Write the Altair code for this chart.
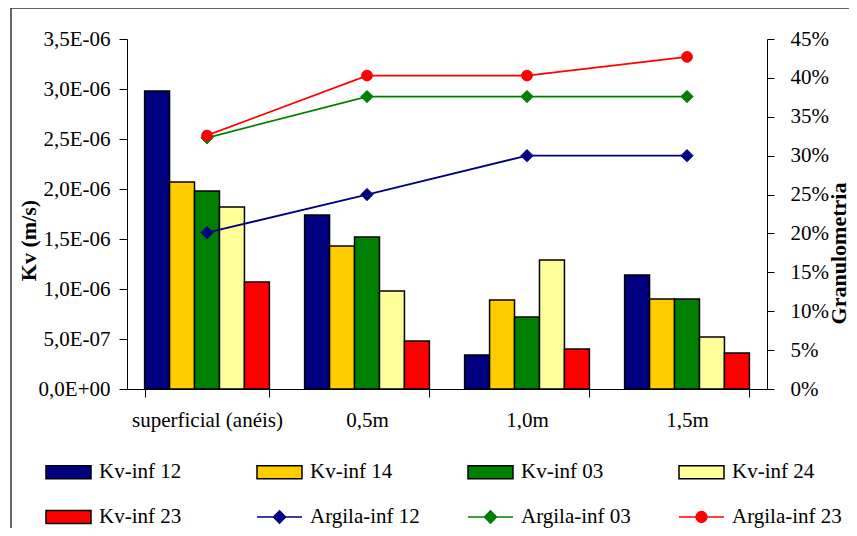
import altair as alt
import pandas as pd

categories = ["superficial (anéis)", "0,5m", "1,0m", "1,5m"]

bar_series = ["Kv-inf 12", "Kv-inf 14", "Kv-inf 03", "Kv-inf 24", "Kv-inf 23"]
kv_inf12 = [2.98e-6, 1.74e-6, 0.34e-6, 1.14e-6]
kv_inf14 = [2.07e-6, 1.43e-6, 0.89e-6, 0.90e-6]
kv_inf03 = [1.98e-6, 1.52e-6, 0.72e-6, 0.90e-6]
kv_inf24 = [1.82e-6, 0.98e-6, 1.29e-6, 0.52e-6]
kv_inf23 = [1.07e-6, 0.48e-6, 0.40e-6, 0.36e-6]

line_series = ["Argila-inf 12", "Argila-inf 03", "Argila-inf 23"]
argila_inf12 = [20.1, 25.0, 30.0, 30.0]
argila_inf03 = [32.3, 37.6, 37.6, 37.6]
argila_inf23 = [32.6, 40.3, 40.3, 42.7]

kv_ticks = [0, 5e-7, 1e-6, 1.5e-6, 2e-6, 2.5e-6, 3e-6, 3.5e-6]
pct_ticks = [0, 5, 10, 15, 20, 25, 30, 35, 40, 45]

bar_colors = ["#000080", "#FFCC00", "#008000", "#FFFF99", "#FF0000"]
line_colors = ["#000080", "#008000", "#FF0000"]

all_series = bar_series + line_series
fill_colors = bar_colors + line_colors
stroke_colors = ["#000000"] * 5 + line_colors

bar_rows = []
for s, vals in zip(bar_series, [kv_inf12, kv_inf14, kv_inf03, kv_inf24, kv_inf23]):
    for c, v in zip(categories, vals):
        bar_rows.append({"cat": c, "series": s, "kv": v})
bars_df = pd.DataFrame(bar_rows)

line_rows = []
for s, vals in zip(line_series, [argila_inf12, argila_inf03, argila_inf23]):
    for c, v in zip(categories, vals):
        line_rows.append({"cat": c, "series": s, "pct": v})
lines_df = pd.DataFrame(line_rows)

FONT = "Liberation Serif"

rect_path = "M-1,-0.29H1V0.29H-1Z"
diamond_path = "M-1,0H1M-0.27,0L0,-0.27L0.27,0L0,0.27Z"
circle_path = "M-1,0H1M-0.24,0A0.24,0.24 0 1,0 0.24,0A0.24,0.24 0 1,0 -0.24,0Z"

fill_scale = alt.Scale(domain=all_series, range=fill_colors)
stroke_scale = alt.Scale(domain=all_series, range=stroke_colors)
shape_scale = alt.Scale(domain=all_series,
                        range=[rect_path] * 5 + [diamond_path, diamond_path, circle_path])

legend_spec = alt.Legend(
    title=None, orient="none", legendX=-82, legendY=409.5, columns=4, direction="horizontal",
    gridAlign="all", columnPadding=45, rowPadding=11, symbolSize=2025,
    labelFont=FONT, labelFontSize=21, labelColor="black", labelOffset=7,
    symbolStrokeWidth=1.5, padding=0, labelLimit=300, symbolOpacity=1,
)

x_scale = alt.Scale(domain=categories, paddingInner=0.22, paddingOuter=0.11)

x_enc = alt.X("cat:N", sort=categories, scale=x_scale,
              axis=alt.Axis(title=None, labelFont=FONT, labelFontSize=21, labelColor="black",
                            labelAngle=0, tickBand="extent", tickSize=8, tickColor="black",
                            domainColor="black", labelPadding=12, labelLimit=300))

kv_label = ("datum.value == 0 ? '0,0E+00' : (datum.value < 0.9e-6 ? "
            "replace(format(datum.value*1e7, '.1f'), '.', ',') + 'E-07' : "
            "replace(format(datum.value*1e6, '.1f'), '.', ',') + 'E-06')")

bars = alt.Chart(bars_df).mark_bar(strokeWidth=1.5).encode(
    x=x_enc,
    xOffset=alt.XOffset("series:N", sort=bar_series,
                        scale=alt.Scale(domain=bar_series, paddingInner=0, paddingOuter=0)),
    y=alt.Y("kv:Q", scale=alt.Scale(domain=[0, 3.5e-6], nice=False),
            axis=alt.Axis(values=kv_ticks, labelExpr=kv_label, title="Kv (m/s)",
                          titleFont=FONT, titleFontSize=22, titleFontWeight="bold",
                          titleColor="black", titleAngle=270, titleX=-99, titleY=201,
                          titleAlign="center", titleBaseline="middle",
                          labelFont=FONT, labelFontSize=21, labelColor="black",
                          tickSize=8, tickColor="black", domainColor="black",
                          labelPadding=9, grid=False, labelOverlap=False)),
    fill=alt.Fill("series:N", scale=fill_scale, legend=legend_spec),
    stroke=alt.Stroke("series:N", scale=stroke_scale, legend=legend_spec),
)

y_pct = alt.Y("pct:Q", scale=alt.Scale(domain=[0, 45], nice=False),
              axis=alt.Axis(orient="right", values=pct_ticks, labelExpr="datum.value + '%'",
                            title="Granulometria", titleFont=FONT, titleFontSize=22,
                            titleFontWeight="bold", titleColor="black", titleAngle=270,
                            titleX=71, titleY=214, titleAlign="center", titleBaseline="middle",
                            labelFont=FONT, labelFontSize=21, labelColor="black",
                            tickSize=7, tickColor="black", domainColor="black",
                            labelPadding=16, grid=False, labelOverlap=False,
                            labelFlush=False))

lines = alt.Chart(lines_df).mark_line(strokeWidth=1.8).encode(
    x=alt.X("cat:N", sort=categories),
    y=y_pct,
    stroke=alt.Stroke("series:N", scale=stroke_scale, legend=legend_spec),
)

pts_d = alt.Chart(lines_df).transform_filter(
    alt.FieldOneOfPredicate(field="series", oneOf=line_series[:2])
).mark_point(filled=True, size=150, opacity=1, shape="diamond", strokeWidth=1).encode(
    x=alt.X("cat:N", sort=categories),
    y=y_pct,
    fill=alt.Fill("series:N", scale=fill_scale, legend=legend_spec),
    stroke=alt.Stroke("series:N", scale=stroke_scale, legend=legend_spec),
)

pts_c = alt.Chart(lines_df).transform_filter(
    alt.FieldOneOfPredicate(field="series", oneOf=line_series[2:])
).mark_point(filled=True, size=115, opacity=1, shape="circle", strokeWidth=1).encode(
    x=alt.X("cat:N", sort=categories),
    y=y_pct,
    fill=alt.Fill("series:N", scale=fill_scale, legend=legend_spec),
    stroke=alt.Stroke("series:N", scale=stroke_scale, legend=legend_spec),
)

right_layer = alt.layer(lines, pts_d, pts_c)

legend_layer = alt.Chart(lines_df).transform_filter("false").mark_point(
    filled=True, opacity=1, size=2025
).encode(
    fill=alt.Fill("series:N", scale=fill_scale, legend=legend_spec),
    stroke=alt.Stroke("series:N", scale=stroke_scale, legend=legend_spec),
    shape=alt.Shape("series:N", scale=shape_scale, legend=legend_spec),
)

one = alt.Data(values=[{"k": 1}])
border_left = alt.Chart(one).mark_rule(color="#333333", strokeWidth=1.5).encode(
    x=alt.value(-116), y=alt.value(-31), y2=alt.value(495))
border_top = alt.Chart(one).mark_rule(color="#333333", strokeWidth=1.5).encode(
    x=alt.value(-116), x2=alt.value(730), y=alt.value(-31))

chart = alt.layer(bars, right_layer, legend_layer, border_left, border_top).resolve_scale(
    y="independent"
).properties(
    width=640, height=350,
    autosize=alt.AutoSizeParams(type="none"),
    padding={"left": 119, "top": 31, "right": 82, "bottom": 139},
    background="white",
).configure_view(stroke=None)

chart.save("out.html", embed_options={"renderer": "svg", "actions": False})
